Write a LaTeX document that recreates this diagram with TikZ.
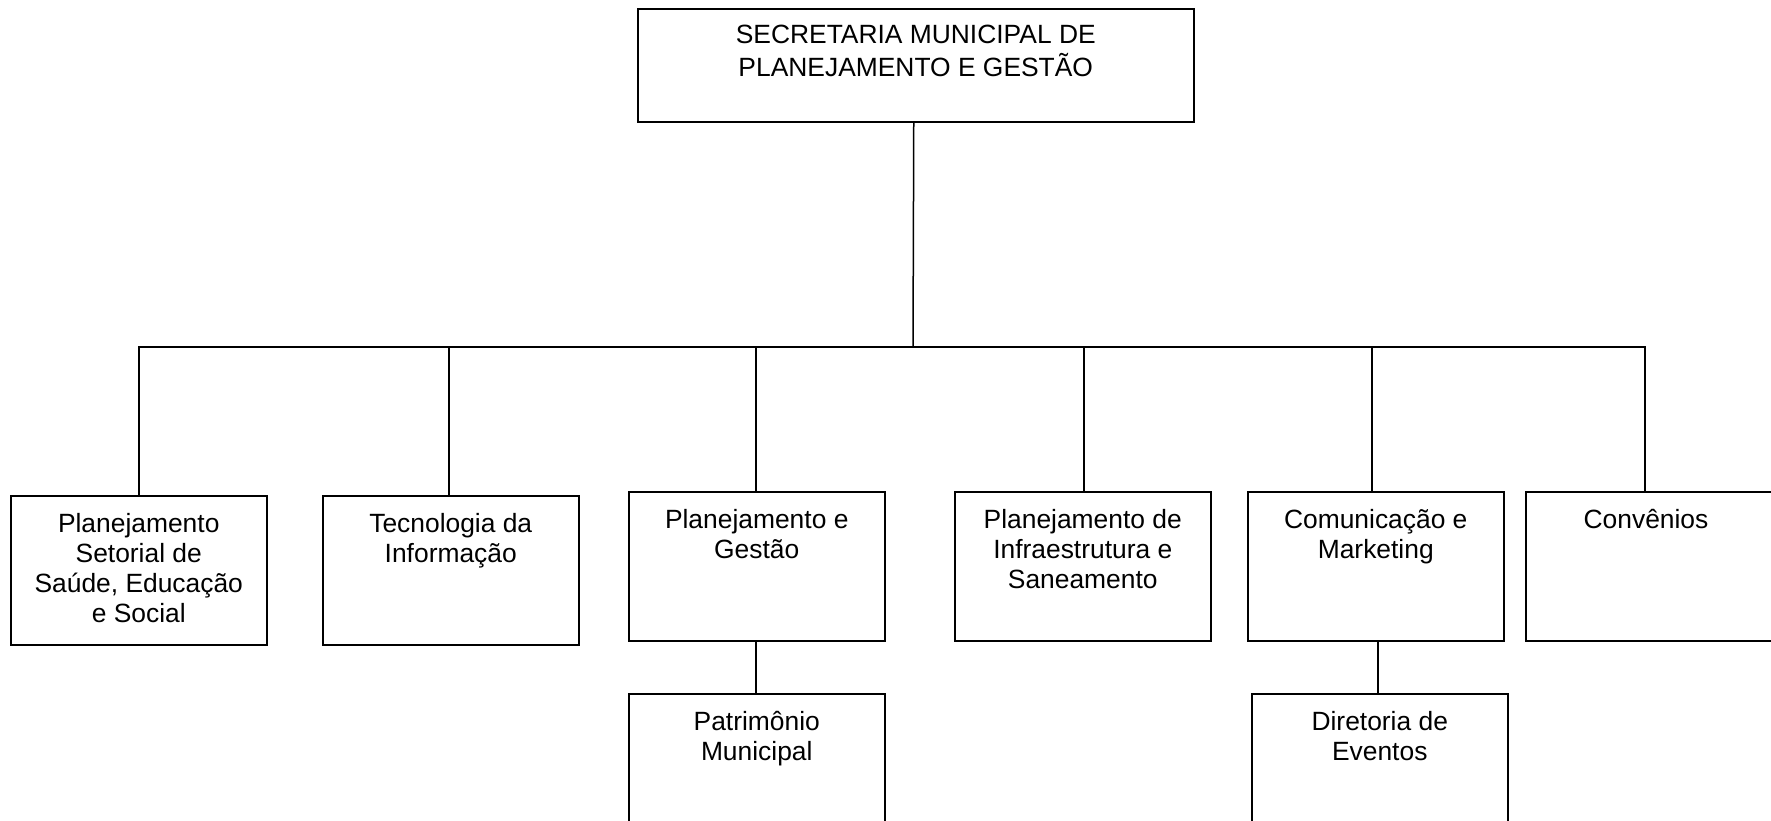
\documentclass[tikz,border=0pt]{standalone}
\usepackage{fontspec}
\setmainfont{Liberation Sans}
\begin{document}
\begin{tikzpicture}[x=1pt,y=-1pt,
  unit/.style={draw, line width=1.5pt, minimum width=256pt, minimum height=149pt, inner sep=0pt, anchor=north west},
  lbl/.style={anchor=north, align=center, inner sep=0pt, font=\fontsize{26.4}{30}\selectfont},
  conn/.style={line width=1.5pt}]
\useasboundingbox (0,0) rectangle (1771,820);
\clip (0,0) rectangle (1771,820);
% boxes
\node[unit, minimum width=556pt, minimum height=113pt] (top) at (637,8) {};
\node[unit] (b1) at (10,495) {};
\node[unit] (b2) at (322,495) {};
\node[unit] (b3) at (628,491) {};
\node[unit] (b4) at (954,491) {};
\node[unit] (b5) at (1247,491) {};
\node[unit] (b6) at (1525,491) {};
\node[unit] (p) at (628,693) {};
\node[unit] (d) at (1251,693) {};
% labels
\node[lbl] (ttop) at ([yshift=-14.5pt]top.north) {\strut SECRETARIA MUNICIPAL DE\\PLANEJAMENTO E GESTÃO};
\node[lbl] (t1) at ([yshift=-16pt]b1.north) {\strut Planejamento\\Setorial de\\Saúde, Educação\\e Social};
\node[lbl] (t2) at ([yshift=-16pt]b2.north) {\strut Tecnologia da\\Informação};
\node[lbl] (t3) at ([yshift=-16pt]b3.north) {\strut Planejamento e\\Gestão};
\node[lbl] (t4) at ([yshift=-16pt]b4.north) {\strut Planejamento de\\Infraestrutura e\\Saneamento};
\node[lbl] (t5) at ([yshift=-16pt]b5.north) {\strut Comunicação e\\Marketing};
\node[lbl] (t6) at ([xshift=121pt,yshift=-16pt]b6.north west) {\strut Convênios};
\node[lbl] (tp) at ([yshift=-16pt]p.north) {\strut Patrimônio\\Municipal};
\node[lbl] (td) at ([yshift=-16pt]d.north) {\strut Diretoria de\\Eventos};
% connectors
\coordinate (bus) at (913,347);
\draw[conn] ([xshift=-2pt]top.south) -- (bus);
\draw[conn] (b1.north) |- (bus);
\draw[conn] ([xshift=-2pt]b2.north) |- (bus);
\draw[conn] ([xshift=-1pt]b3.north) |- (bus);
\draw[conn] ([xshift=1pt]b4.north) |- (bus);
\draw[conn] ([xshift=-4pt]b5.north) |- (bus);
\draw[conn] ([xshift=120pt]b6.north west) |- (bus);
\draw[conn] ([xshift=-1pt]b3.south) -- ([xshift=-1pt]p.north);
\draw[conn] ([xshift=2pt]b5.south) -- ([xshift=-2pt]d.north);
\end{tikzpicture}
\end{document}
